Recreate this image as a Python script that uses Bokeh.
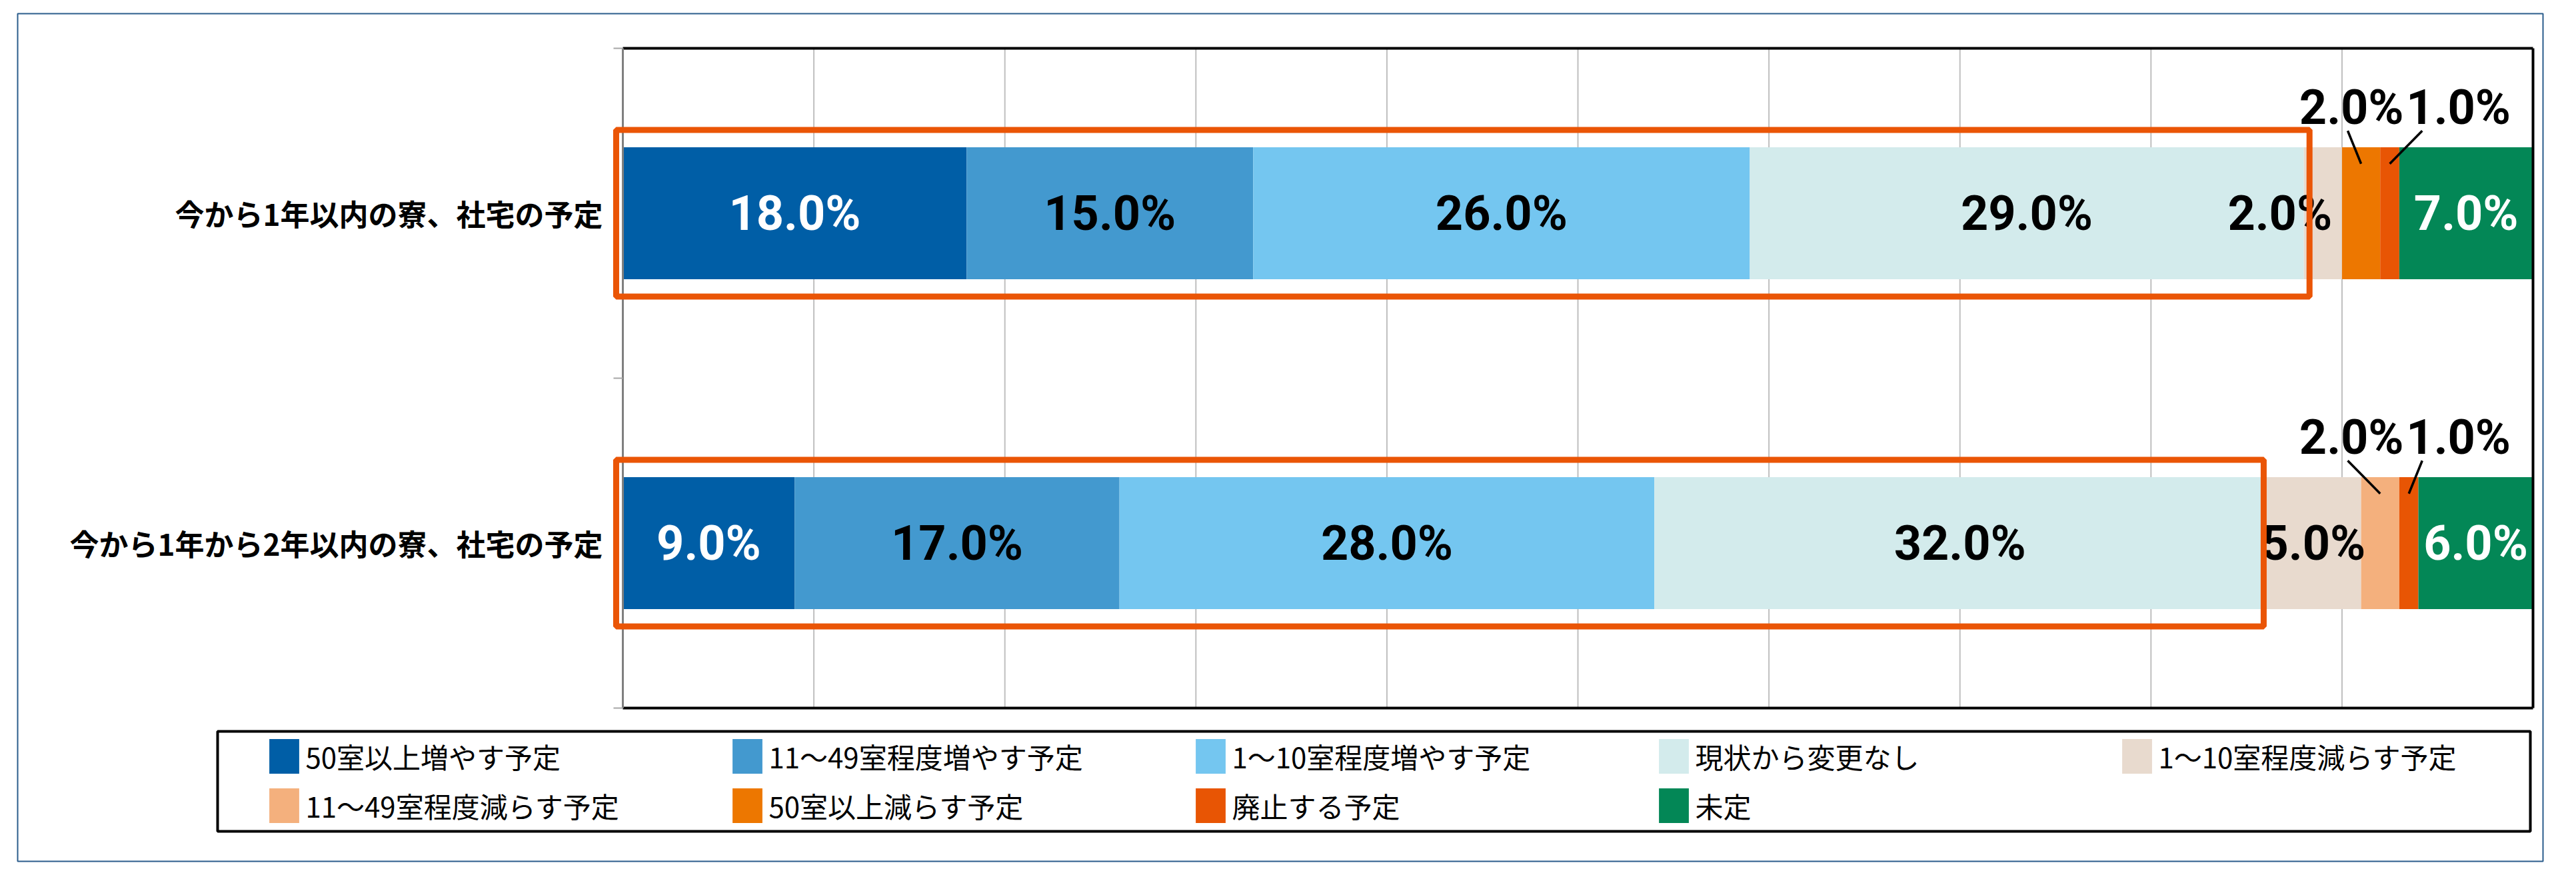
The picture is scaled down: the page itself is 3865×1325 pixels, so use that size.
from bokeh.plotting import figure
from bokeh.models import (ColumnDataSource, Range1d, Legend, LegendItem, BoxAnnotation)
from bokeh.core.properties import value
from bokeh.embed import file_html
from bokeh.resources import INLINE

# ---------------- data ----------------
categories = ["今から1年以内の寮、社宅の予定", "今から1年から2年以内の寮、社宅の予定"]
series = ["50室以上増やす予定", "11～49室程度増やす予定", "1～10室程度増やす予定",
          "現状から変更なし", "1～10室程度減らす予定", "11～49室程度減らす予定",
          "50室以上減らす予定", "廃止する予定", "未定"]
within_1yr = [18.0, 15.0, 26.0, 29.0, 2.0, 0.0, 2.0, 1.0, 7.0]
within_1to2yr = [9.0, 17.0, 28.0, 32.0, 5.0, 2.0, 0.0, 1.0, 6.0]
x_ticks = [0, 10, 20, 30, 40, 50, 60, 70, 80, 90, 100]

# ---------------- styles / layout ----------------
colors = ["#005EA6", "#4399CF", "#74C6F0", "#D3EBEC", "#E8DACE",
          "#F4B07D", "#ED7700", "#E85504", "#038756"]
label_colors = ["white", "black", "black", "black", "black",
                "black", "black", "black", "white"]
NUM_FONT = value("Roboto")
JP_FONT = "Noto Sans CJK JP"
NUM_SIZE = "72px"
BAR_H = 0.4
CALLOUT_SERIES = {5, 6, 7}
CALLOUT_LABEL_X = [90.5, 96.1]
CALLOUT_TOP_DX = [-0.2, -1.9]
CALLOUT_LABEL_DY = -0.32
LABEL_SHIFT = {(0, 4): -2.25}
HIGHLIGHT_LAST = 3
HIGHLIGHT_PAD_R = [0.3, -0.1]
ORANGE_BOX = "#EA5506"

PAGE = 8
W, H = 3849, 1309
OUTER = dict(left=34, right=3823, top=28, bottom=1300)     # page px
PLOT = dict(left=942, right=3808, top=80, bottom=1070)     # page px
LEGEND_BOX = dict(left=334, right=3804, top=1105, bottom=1255)

n_cat = len(categories)
sx = (PLOT["right"] - PLOT["left"]) / 100.0
sy = (PLOT["bottom"] - PLOT["top"]) / n_cat


def px2x(px):
    return (px - PLOT["left"]) / sx


def px2y(py):
    return (py - PLOT["top"]) / sy


rows = [within_1yr, within_1to2yr]
cat_y = [i + 0.5 for i in range(n_cat)]

p = figure(width=W, height=H, title=None,
           x_range=Range1d(px2x(OUTER["left"]), px2x(OUTER["right"])),
           y_range=Range1d(px2y(OUTER["bottom"]), px2y(OUTER["top"])),
           output_backend="svg", toolbar_location=None,
           x_axis_location=None, y_axis_location=None,
           min_border_left=OUTER["left"] - PAGE,
           min_border_right=PAGE + W - OUTER["right"],
           min_border_top=OUTER["top"] - PAGE,
           min_border_bottom=PAGE + H - OUTER["bottom"],
           background_fill_color="white", border_fill_color="white",
           outline_line_color="#2B5D8C", outline_line_width=2)
p.grid.visible = False

# vertical grid lines (inside the plot area)
inner_ticks = x_ticks[1:-1]
p.segment(x0=inner_ticks, x1=inner_ticks, y0=[0] * len(inner_ticks),
          y1=[n_cat] * len(inner_ticks), line_color="#BFBFBF", line_width=2)

# stacked bars
bar_data = {"y": cat_y}
for k, s in enumerate(series):
    bar_data[s] = [r[k] for r in rows]
src = ColumnDataSource(bar_data)
renderers = p.hbar_stack(series, y="y", height=BAR_H, fill_color=colors,
                         line_color=None, source=src)

# plot-area border: black top / bottom / right, gray category axis on the left
p.segment(x0=[x_ticks[0], x_ticks[0], x_ticks[-1]], x1=[x_ticks[-1], x_ticks[-1], x_ticks[-1]],
          y0=[0, n_cat, 0], y1=[0, n_cat, n_cat], line_color="black", line_width=4)
p.segment(x0=[x_ticks[0]], x1=[x_ticks[0]], y0=[0], y1=[n_cat],
          line_color="#7F7F7F", line_width=3)
tick_ys = list(range(n_cat + 1))
p.segment(x0=[px2x(PLOT["left"] - 14)] * len(tick_ys), x1=[x_ticks[0]] * len(tick_ys),
          y0=tick_ys, y1=tick_ys, line_color="#A6A6A6", line_width=2)

# category labels
p.text(x=[x_ticks[0]] * n_cat, y=cat_y, text=categories, x_offset=-30,
       text_align="right", text_baseline="middle", text_color="black",
       text_font=value(JP_FONT), text_font_style="bold", text_font_size="44px")

# inner labels + callouts
ix, iy, itxt, icol = [], [], [], []
cx, cy, ctxt = [], [], []
sx0, sy0, sx1, sy1 = [], [], [], []
for ci, vals in enumerate(rows):
    y = cat_y[ci]
    cum = 0.0
    j = 0
    for k, v in enumerate(vals):
        left = cum
        cum += v
        if v <= 0:
            continue
        center = left + v / 2
        if k in CALLOUT_SERIES:
            lx = CALLOUT_LABEL_X[j]
            cx.append(lx)
            cy.append(y + CALLOUT_LABEL_DY)
            ctxt.append(f"{v:.1f}%")
            sx0.append(lx + CALLOUT_TOP_DX[j])
            sy0.append(y - 0.25)
            sx1.append(center)
            sy1.append(y - 0.15)
            j += 1
        else:
            ix.append(center + LABEL_SHIFT.get((ci, k), 0.0))
            iy.append(y)
            itxt.append(f"{v:.1f}%")
            icol.append(label_colors[k])

p.text(x="x", y="y", text="t", text_color="c",
       source=ColumnDataSource(dict(x=ix, y=iy, t=itxt, c=icol)),
       text_font=NUM_FONT, text_font_style="bold", text_font_size=NUM_SIZE,
       text_align="center", text_baseline="middle")

p.segment(x0="x0", y0="y0", x1="x1", y1="y1",
          source=ColumnDataSource(dict(x0=sx0, y0=sy0, x1=sx1, y1=sy1)),
          line_color="black", line_width=3.5)
p.text(x="x", y="y", text="t", source=ColumnDataSource(dict(x=cx, y=cy, t=ctxt)),
       text_color="black", text_font=NUM_FONT, text_font_style="bold",
       text_font_size=NUM_SIZE, text_align="center", text_baseline="middle")

# highlight boxes around the first four segments
for ci, vals in enumerate(rows):
    right = sum(vals[:HIGHLIGHT_LAST + 1]) + HIGHLIGHT_PAD_R[ci]
    p.add_layout(BoxAnnotation(left=-0.35, right=right,
                               top=cat_y[ci] - 0.2525, bottom=cat_y[ci] + 0.2525,
                               fill_color=None, line_color=ORANGE_BOX,
                               line_alpha=1.0, line_width=9))

# legend frame
p.add_layout(BoxAnnotation(left=px2x(LEGEND_BOX["left"]), right=px2x(LEGEND_BOX["right"]),
                           top=px2y(LEGEND_BOX["top"]), bottom=px2y(LEGEND_BOX["bottom"]),
                           fill_color=None, line_color="black", line_alpha=1.0,
                           line_width=4))

legend = Legend(items=[LegendItem(label=s, renderers=[r]) for s, r in zip(series, renderers)],
                location=(406.4 - OUTER["left"], OUTER["bottom"] - 1248.5),
                orientation="horizontal", ncols=5,
                glyph_width=56, glyph_height=65, label_standoff=4, label_width=626,
                spacing=9, padding=0, margin=0, border_line_color=None,
                background_fill_alpha=0, label_text_font=JP_FONT,
                label_text_font_size="42px", label_text_color="black")
p.add_layout(legend, "center")

open("out.html", "w").write(file_html(p, INLINE))
